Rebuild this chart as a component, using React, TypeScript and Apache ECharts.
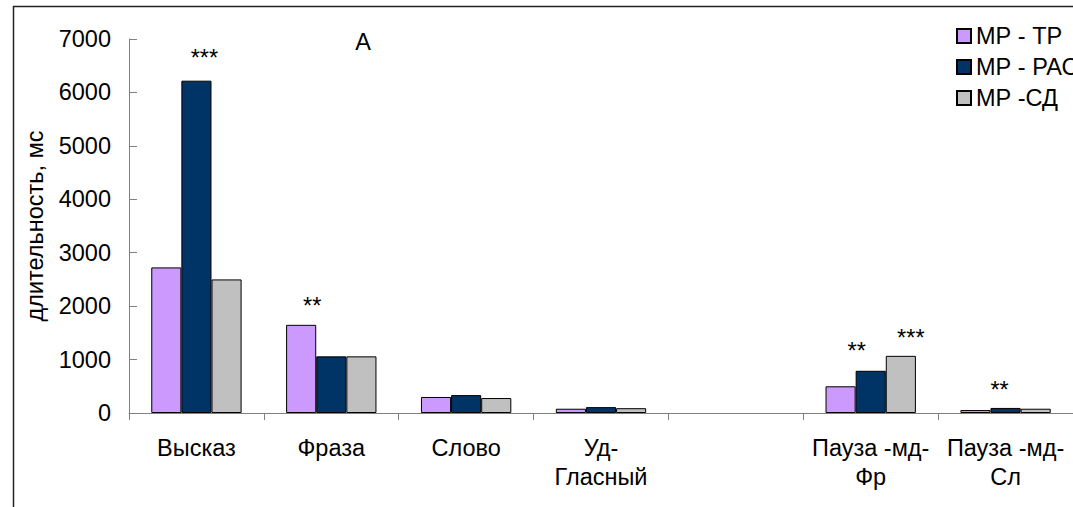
import React, { useEffect, useRef } from "react";
import * as echarts from "echarts";

const CATEGORIES = ["Высказ", "Фраза", "Слово", "Уд-\nГласный", "", "Пауза -мд-\nФр", "Пауза -мд-\nСл"];
const SERIES_NAMES = ["МР - ТР", "МР - РАС", "МР -СД"];
const TP_VALUES = [2725, 1650, 300, 80, null, 500, 55];
const PAC_VALUES = [6220, 1060, 335, 110, null, 790, 95];
const SD_VALUES = [2500, 1060, 280, 90, null, 1070, 80];
const TP_STARS = ["", "**", "", "", "", "", ""];
const PAC_STARS = ["***", "", "", "", "", "**", "**"];
const SD_STARS = ["", "", "", "", "", "***", ""];
const Y_MIN = 0;
const Y_MAX = 7000;
const Y_STEP = 1000;
const PANEL_LETTER = "А";

const FONT = "'Liberation Sans', Arial, sans-serif";
const FS = 23.5;
const COLORS = ["#CC99FF", "#003366", "#C0C0C0"];
// label offsets [dx, dy] per series/category (styling only)
const STAR_OFFSETS: Record<string, [number, number]> = {
  "0-1": [11, 0],
  "1-0": [8, -4],
  "1-5": [-14, -1],
  "1-6": [-6, 1],
  "2-5": [10, 1],
};

function buildData(values: (number | null)[], stars: string[], si: number) {
  return values.map((v, i) => {
    if (!stars[i]) return v;
    const off = STAR_OFFSETS[`${si}-${i}`] || [0, 0];
    return {
      value: v,
      label: {
        show: true,
        position: "top",
        distance: 7,
        offset: off,
        formatter: stars[i],
        fontSize: FS,
        fontFamily: FONT,
        color: "#000",
      },
    };
  });
}

export default function App() {
  const ref = useRef<HTMLDivElement>(null);
  useEffect(() => {
    document.body.style.margin = "0";
    const chart = echarts.init(ref.current!, undefined, { renderer: "svg" });
    const allValues = [TP_VALUES, PAC_VALUES, SD_VALUES];
    const allStars = [TP_STARS, PAC_STARS, SD_STARS];
    chart.setOption({
      animation: false,
      backgroundColor: "#fff",
      textStyle: { fontFamily: FONT },
      grid: { left: 129, top: 39, width: 952, height: 374 },
      legend: {
        orient: "vertical",
        left: 956,
        top: 24,
        itemWidth: 14,
        itemHeight: 14,
        itemGap: 7,
        icon: "rect",
        padding: 0,
        textStyle: { fontSize: FS, color: "#000", fontFamily: FONT },
        data: SERIES_NAMES,
      },
      xAxis: {
        type: "category",
        data: CATEGORIES,
        axisLine: { lineStyle: { color: "#808080", width: 1 } },
        axisTick: { show: true, alignWithLabel: false, length: 7, lineStyle: { color: "#808080" } },
        axisLabel: { interval: 0, fontSize: FS, lineHeight: 29, margin: 20, color: "#000", fontFamily: FONT },
      },
      yAxis: {
        type: "value",
        min: Y_MIN,
        max: Y_MAX,
        interval: Y_STEP,
        name: "длительность, мс",
        nameLocation: "middle",
        nameGap: 82,
        nameTextStyle: { fontSize: FS, color: "#000", fontFamily: FONT },
        splitLine: { show: false },
        axisLine: { show: true, lineStyle: { color: "#808080", width: 1 } },
        axisTick: { show: true, inside: true, length: 8, lineStyle: { color: "#808080" } },
        axisLabel: {
          fontSize: FS,
          margin: 18,
          color: "#000",
          fontFamily: FONT,
          formatter: (v: number) => String(v),
        },
      },
      series: SERIES_NAMES.map((name, si) => ({
        name,
        type: "bar",
        barGap: "0%",
        barCategoryGap: "33%",
        itemStyle: { color: COLORS[si], borderColor: "#000", borderWidth: 1 },
        data: buildData(allValues[si], allStars[si], si),
      })),
      graphic: [
        {
          type: "rect",
          shape: { x: 13.5, y: 6.5, width: 1200, height: 700 },
          style: { fill: "none", stroke: "#222", lineWidth: 1.5 },
          silent: true,
        },
        {
          type: "text",
          x: 363,
          y: 42,
          style: {
            text: PANEL_LETTER,
            fontSize: FS,
            fontFamily: FONT,
            fill: "#000",
            textAlign: "center",
            textVerticalAlign: "middle",
          },
        },
      ],
    });
    return () => chart.dispose();
  }, []);
  return <div ref={ref} style={{ width: 1073, height: 507 }} />;
}
